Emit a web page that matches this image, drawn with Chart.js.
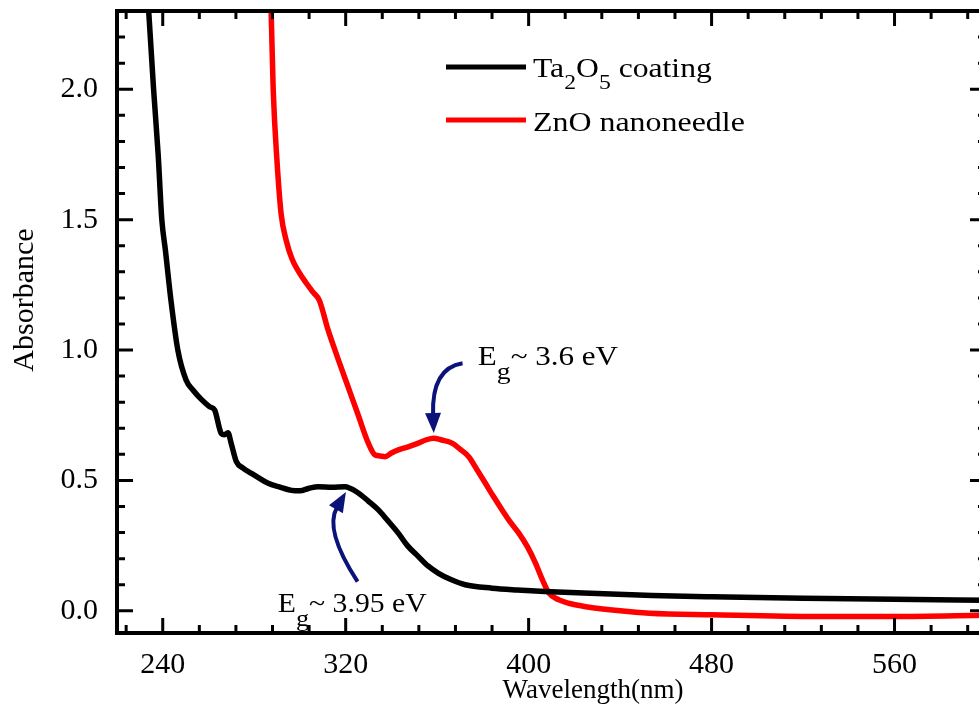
<!DOCTYPE html>
<html>
<head>
<meta charset="utf-8">
<script src="https://cdn.jsdelivr.net/npm/chart.js@4"></script>
<style>
html, body { margin: 0; padding: 0; background: #fff; overflow: hidden; }
#wrap { width: 992px; height: 704px; }
</style>
</head>
<body>
<div id="wrap"><canvas id="grafica"></canvas></div>
<script>
// Absorbance spectra
const ta2o5Nm = [232.5, 234, 236, 238, 239.6, 241.2, 243.6, 246.6, 250.2, 253.2, 257, 260.5, 262.7, 265.6, 267, 268.5, 270, 272.2, 275, 278.8, 282, 286.1, 291, 296.3, 300, 304, 308, 314, 319.6, 325.5, 330, 334.3, 338, 343, 347, 351.8, 356, 360.6, 366, 372.3, 384, 395, 407, 430, 454, 480, 520, 560, 600];
const ta2o5Abs = [2.5, 2.28, 2.0, 1.75, 1.5, 1.38, 1.19, 1.0, 0.885, 0.847, 0.81, 0.783, 0.77, 0.68, 0.675, 0.683, 0.64, 0.572, 0.548, 0.527, 0.51, 0.489, 0.475, 0.462, 0.46, 0.47, 0.476, 0.474, 0.476, 0.452, 0.42, 0.387, 0.35, 0.298, 0.25, 0.208, 0.172, 0.144, 0.12, 0.1, 0.087, 0.08, 0.074, 0.066, 0.059, 0.054, 0.048, 0.044, 0.041];

const znoNm = [286.5, 287.4, 288.3, 290, 291.8, 294, 296.5, 299.5, 302.5, 305.9, 308.5, 312.3, 316.5, 321, 325.5, 329.9, 332.8, 335, 337.2, 340, 343, 347, 351.8, 355, 358.4, 362, 366.5, 370, 373.8, 377.5, 381.1, 384.5, 388.4, 392, 395.7, 399.5, 403, 406, 408.9, 413.3, 418, 425, 440, 452.8, 480, 527, 560, 600];
const znoAbs = [2.5, 2.3, 2.0, 1.72, 1.52, 1.42, 1.35, 1.3, 1.26, 1.22, 1.19, 1.077, 0.97, 0.86, 0.75, 0.643, 0.598, 0.594, 0.591, 0.605, 0.617, 0.628, 0.643, 0.655, 0.662, 0.655, 0.643, 0.62, 0.591, 0.54, 0.489, 0.44, 0.387, 0.34, 0.298, 0.245, 0.183, 0.12, 0.068, 0.042, 0.028, 0.016, 0.0, -0.009, -0.015, -0.022, -0.022, -0.017];

const xTickLabels = [240, 320, 400, 480, 560];
const yTickLabels = [0.0, 0.5, 1.0, 1.5, 2.0];
const seriesNames = ["Ta2O5 coating", "ZnO nanoneedle"];
const seriesColors = ["#000000", "#ff0000"];

const SERIF = "'Liberation Serif', 'Times New Roman', serif";
const NAVY = "#0b137a";

function pts(xs, ys) {
    return xs.map((x, i) => ({ x: x, y: ys[i] }));
}

// draw a row of text pieces [text, size, dy], slightly widened like the original
function runs(ctx, x, y, parts, sx) {
    ctx.save();
    ctx.translate(x, y);
    ctx.scale(sx || 1, 1);
    ctx.textAlign = "left";
    ctx.textBaseline = "alphabetic";
    let cx = 0;
    for (const p of parts) {
        ctx.font = p[1] + "px " + SERIF;
        ctx.fillText(p[0], cx, p[2]);
        cx += ctx.measureText(p[0]).width;
    }
    ctx.restore();
}

function arrow(ctx, x0, y0, cx, cy, x1, y1) {
    ctx.save();
    ctx.strokeStyle = NAVY;
    ctx.fillStyle = NAVY;
    ctx.lineWidth = 4;
    let ang = Math.atan2(y1 - cy, x1 - cx);
    let hl = 20, hw = 8;
    let bx = x1 - hl * Math.cos(ang), by = y1 - hl * Math.sin(ang);
    ctx.beginPath();
    ctx.moveTo(x0, y0);
    ctx.quadraticCurveTo(cx, cy, bx + 2 * Math.cos(ang), by + 2 * Math.sin(ang));
    ctx.stroke();
    ctx.beginPath();
    ctx.moveTo(x1, y1);
    ctx.lineTo(bx - hw * Math.sin(ang), by + hw * Math.cos(ang));
    ctx.lineTo(bx + hw * Math.sin(ang), by - hw * Math.cos(ang));
    ctx.closePath();
    ctx.fill();
    ctx.restore();
}

const decor = {
    id: "decor",
    afterDatasetsDraw(chart) {
        const ctx = chart.ctx;
        const a = chart.chartArea;
        const xs = chart.scales.x, ys = chart.scales.y;
        ctx.save();
        ctx.strokeStyle = "#000";
        ctx.fillStyle = "#000";

        // inward ticks on all four sides
        ctx.lineWidth = 3;
        ctx.beginPath();
        for (let v = 224; v <= 592; v += 16) {
            let px = xs.getPixelForValue(v);
            let len = v % 80 === 0 ? 15 : 8;
            ctx.moveTo(px, a.bottom); ctx.lineTo(px, a.bottom - len);
            ctx.moveTo(px, a.top); ctx.lineTo(px, a.top + len);
        }
        for (let i = 0; i <= 22; i++) {
            let py = ys.getPixelForValue(i / 10);
            let len = i % 5 === 0 ? 16 : 8;
            ctx.moveTo(a.left, py); ctx.lineTo(a.left + len, py);
            ctx.moveTo(a.right, py); ctx.lineTo(a.right - len, py);
        }
        ctx.stroke();

        // frame
        ctx.lineWidth = 4;
        ctx.strokeRect(a.left, a.top, a.right - a.left, a.bottom - a.top);

        // axis titles
        ctx.font = "27px " + SERIF;
        ctx.textAlign = "center";
        ctx.textBaseline = "alphabetic";
        ctx.fillText("Wavelength(nm)", 593, 698);
        ctx.save();
        ctx.translate(33, 300);
        ctx.rotate(-Math.PI / 2);
        ctx.font = "30px " + SERIF;
        ctx.fillText("Absorbance", 0, 0);
        ctx.restore();

        // legend
        const lg = [[67, 77], [120, 131]];
        for (let k = 0; k < 2; k++) {
            ctx.strokeStyle = seriesColors[k];
            ctx.lineWidth = 5;
            ctx.beginPath();
            ctx.moveTo(446, lg[k][0]);
            ctx.lineTo(526, lg[k][0]);
            ctx.stroke();
        }
        ctx.fillStyle = "#000";
        runs(ctx, 533, lg[0][1], [["Ta", 28, 0], ["2", 21, 12], ["O", 28, 0], ["5", 21, 12], [" coating", 28, 0]], 1.13);
        runs(ctx, 533, lg[1][1], [["ZnO nanoneedle", 28, 0]], 1.14);

        // band gap annotations
        const X = v => xs.getPixelForValue(v), Y = v => ys.getPixelForValue(v);
        arrow(ctx, X(371.1), Y(0.949), X(357.5), Y(0.93), X(358.5), Y(0.682));
        arrow(ctx, X(325.2), Y(0.112), X(310.5), Y(0.31), X(320.1), Y(0.456));
        ctx.fillStyle = "#000";
        runs(ctx, X(377.8), Y(0.943), [["E", 27, 0], ["g", 24, 14], ["~ 3.6 eV", 27, 0]], 1.15);
        runs(ctx, X(290.3), Y(-0.004), [["E", 27, 0], ["g", 24, 14], ["~ 3.95 eV", 27, 0]], 1.1);

        ctx.restore();
    }
};

new Chart(document.getElementById("grafica"), {
    type: "line",
    data: {
        datasets: [
            { label: seriesNames[0], data: pts(ta2o5Nm, ta2o5Abs), borderColor: seriesColors[0] },
            { label: seriesNames[1], data: pts(znoNm, znoAbs), borderColor: seriesColors[1] }
        ]
    },
    options: {
        responsive: true,
        maintainAspectRatio: false,
        animation: false,
        layout: { padding: { left: 0, top: 11, right: 6, bottom: 0 } },
        elements: {
            point: { radius: 0 },
            line: { borderWidth: 5.5, cubicInterpolationMode: "monotone", fill: false }
        },
        plugins: { legend: { display: false }, tooltip: { enabled: false } },
        scales: {
            x: {
                type: "linear",
                min: 220, max: 600,
                afterBuildTicks: s => { s.ticks = xTickLabels.map(v => ({ value: v })); },
                afterFit: s => { s.height = 71; s.paddingLeft = 0; s.paddingRight = 0; },
                grid: { display: false, drawTicks: false },
                border: { display: false },
                ticks: { color: "#000", padding: 14, maxRotation: 0, font: { family: SERIF, size: 30 } }
            },
            y: {
                min: -0.085, max: 2.3,
                afterBuildTicks: s => { s.ticks = yTickLabels.map(v => ({ value: v })); },
                afterFit: s => { s.width = 117; s.paddingTop = 0; s.paddingBottom = 0; },
                grid: { display: false, drawTicks: false },
                border: { display: false },
                ticks: { color: "#000", padding: 19, callback: v => v.toFixed(1), font: { family: SERIF, size: 30 } }
            }
        }
    },
    plugins: [decor]
});
</script>
</body>
</html>
